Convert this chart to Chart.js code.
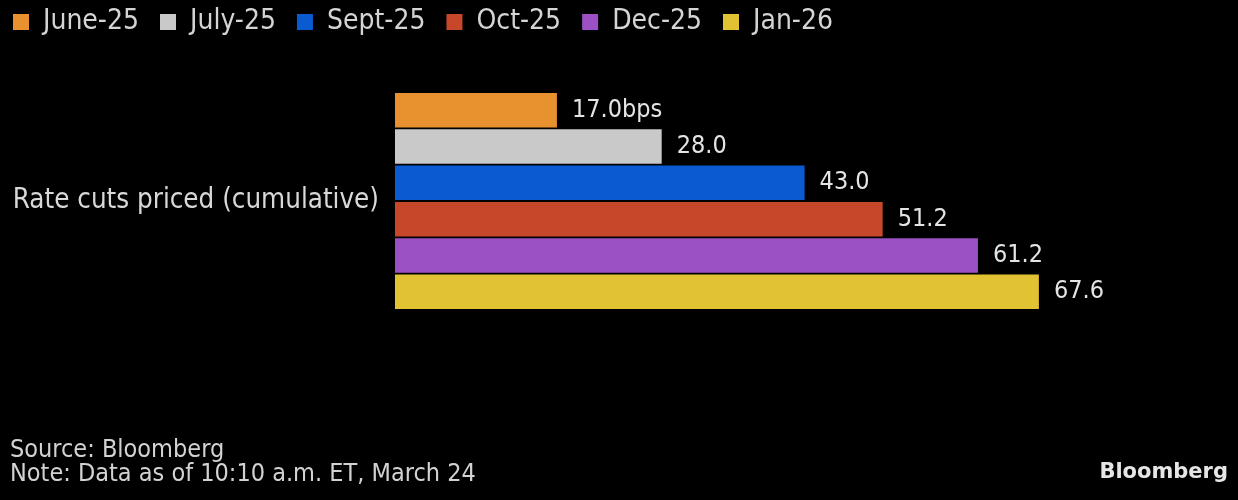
<!DOCTYPE html>
<html>
<head>
<meta charset="utf-8">
<script src="https://cdn.jsdelivr.net/npm/chart.js@4.4.1/dist/chart.umd.min.js"></script>
<style>
  html, body { margin: 0; padding: 0; background: #000; }
  #wrap { position: relative; width: 1238px; height: 500px; background: #000; }
  .foot { position: absolute; left: 10px; top: 437px; color: #d2d2d2;
          font: 25px/24px "DejaVu Sans Condensed", "DejaVu Sans", sans-serif; }
  .logo { position: absolute; right: 10px; top: 459px; color: #e6e6e6;
          font: bold 21px "DejaVu Sans", sans-serif; }
</style>
</head>
<body>
<div id="wrap">
  <canvas id="myChart"></canvas>
  <div class="foot">Source: Bloomberg<br>Note: Data as of 10:10 a.m. ET, March 24</div>
  <div class="logo">Bloomberg</div>
</div>
<script>
const categories = ['Rate cuts priced (cumulative)'];
const meetings = ['June-25', 'July-25', 'Sept-25', 'Oct-25', 'Dec-25', 'Jan-26'];
const cutsPriced = [17.0, 28.0, 43.0, 51.2, 61.2, 67.6];
const colors = ['#e8922f', '#c9c9c9', '#0a5ad2', '#c6472a', '#9b50c4', '#e1c232'];
const unitSuffix = 'bps';

const fontFam = '"DejaVu Sans Condensed", "DejaVu Sans", sans-serif';

// value labels to the right of each bar
const valueLabels = {
  id: 'valueLabels',
  afterDatasetsDraw(chart) {
    const ctx = chart.ctx;
    ctx.save();
    ctx.font = '25px ' + fontFam;
    ctx.fillStyle = '#e4e4e4';
    ctx.textBaseline = 'middle';
    ctx.textAlign = 'left';
    chart.data.datasets.forEach((ds, i) => {
      const bar = chart.getDatasetMeta(i).data[0];
      let txt = ds.data[0].toFixed(1);
      if (i === 0) txt += unitSuffix;
      ctx.fillText(txt, bar.x + 15, bar.y);
    });
    ctx.restore();
  }
};

const ctx = document.getElementById('myChart');

new Chart(ctx, {
  type: 'bar',
  data: {
    labels: categories,
    datasets: meetings.map((m, i) => ({
      label: m,
      data: [cutsPriced[i]],
      backgroundColor: colors[i],
      borderWidth: 0
    }))
  },
  options: {
    indexAxis: 'y',
    responsive: true,
    maintainAspectRatio: false,
    animation: false,
    categoryPercentage: 0.703,
    barPercentage: 0.95,
    layout: { padding: { left: -8, top: -13, right: 81, bottom: 144 } },
    plugins: {
      tooltip: { enabled: false },
      legend: {
        position: 'top',
        align: 'start',
        labels: {
          boxWidth: 16,
          boxHeight: 16,
          padding: 21,
          color: '#d4d4d4',
          font: { size: 28, family: fontFam }
        }
      }
    },
    scales: {
      x: { display: false, min: 0, max: 80 },
      y: {
        grid: { display: false },
        border: { display: false },
        ticks: { color: '#d8d8d8', padding: 8, font: { size: 27.5, family: fontFam } },
        afterFit: (scale) => { scale.width = 403; }
      }
    }
  },
  plugins: [valueLabels]
});
</script>
</body>
</html>
